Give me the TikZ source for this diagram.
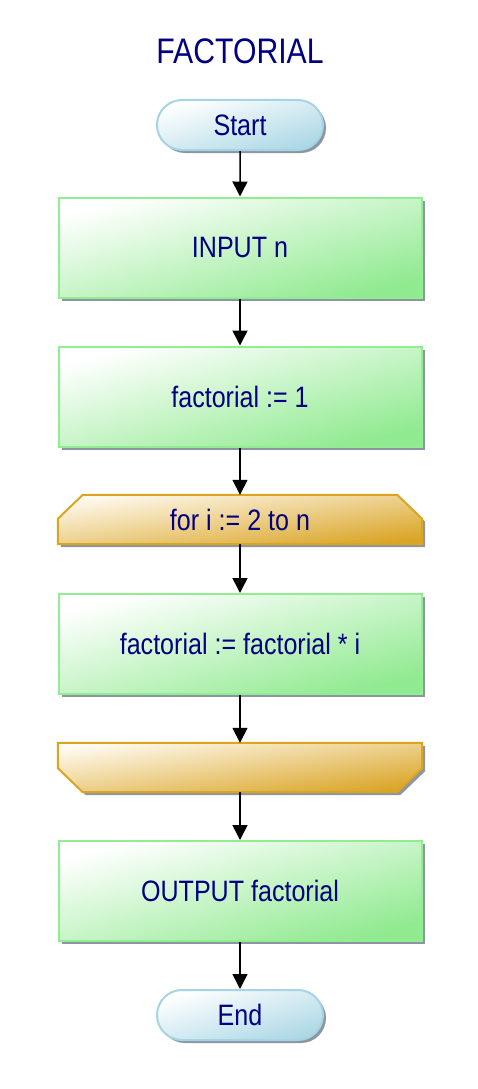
\documentclass[tikz,border=0pt]{standalone}
\usepackage{fontspec}
\setmainfont{Liberation Sans}
\newfontfamily\narrowsans[FakeStretch=0.85]{Liberation Sans}
\usetikzlibrary{arrows.meta,shapes.misc,shadows,calc}
\definecolor{navyc}{HTML}{000080}
\definecolor{greenb}{HTML}{90EE90}
\definecolor{greenf}{HTML}{90EA90}
\definecolor{goldb}{HTML}{DAA520}
\definecolor{goldf}{HTML}{DAA424}
\definecolor{goldl}{HTML}{FFFBF2}
\definecolor{blueb}{HTML}{A6D4E2}
\definecolor{bluef}{HTML}{ADD8E6}
\definecolor{shadowc}{HTML}{8C96A2}
\pgfdeclarelayer{background}
\pgfsetlayers{background,main}
\begin{document}
\begin{tikzpicture}[x=1pt,y=-1pt,
  boxshadow/.style={drop shadow={shadow xshift=3pt,shadow yshift=-3pt,fill=shadowc,opacity=1}},
  txt/.style={text=navyc,font=\narrowsans\fontsize{29.5}{34}\selectfont},
  procbox/.style={rectangle,minimum width=363pt,minimum height=100pt,inner sep=0pt,
    draw=greenb,line width=2pt,top color=white,bottom color=greenf,shading angle=15.4,
    boxshadow,txt},
  termbox/.style={rounded rectangle,minimum width=166pt,minimum height=50pt,inner sep=0pt,
    draw=blueb,line width=2pt,top color=white,bottom color=bluef,shading angle=16.8,
    boxshadow,txt},
  loopnode/.style={rectangle,minimum width=364pt,minimum height=49pt,inner sep=0pt,txt},
  loopshape/.style={draw=goldb,line width=2pt,top color=goldl,bottom color=goldf,
    shading angle=7.7,boxshadow},
  conn/.style={line width=1.5pt,-{Triangle[width=15pt,length=15pt]}}
]
\useasboundingbox (0,0) rectangle (478,1089);
\node[text=navyc,font=\narrowsans\fontsize{35.5}{40}\selectfont] (title) at (240,51.3) {FACTORIAL};
\node[termbox] (start) at (240,125) {Start};
\node[procbox] (in) at (240,247.5) {INPUT n};
\node[procbox] (init) at (240,396.5) {factorial := 1};
\node[loopnode] (ls) at (240,519.5) {for i := 2 to n};
\node[procbox] (body) at (240,644) {factorial := factorial * i};
\node[loopnode] (le) at (240,767.5) {};
\node[procbox] (out) at (240,891) {OUTPUT factorial};
\node[termbox] (end) at (240,1015) {End};
\begin{pgfonlayer}{background}
\path[loopshape] (ls.south west) -- ($(ls.north west)+(0,24)$) -- ($(ls.north west)+(25,0)$)
  -- ($(ls.north east)+(-25,0)$) -- ($(ls.north east)+(0,24)$) -- (ls.south east) -- cycle;
\path[loopshape] (le.north west) -- ($(le.south west)+(0,-24)$) -- ($(le.south west)+(25,0)$)
  -- ($(le.south east)+(-25,0)$) -- ($(le.south east)+(0,-24)$) -- (le.north east) -- cycle;
\end{pgfonlayer}
\draw[conn] (start) -- (in);
\draw[conn] (in) -- (init);
\draw[conn] (init) -- (ls);
\draw[conn] (ls) -- (body);
\draw[conn] (body) -- (le);
\draw[conn] (le) -- (out);
\draw[conn] (out) -- (end);
\end{tikzpicture}
\end{document}
